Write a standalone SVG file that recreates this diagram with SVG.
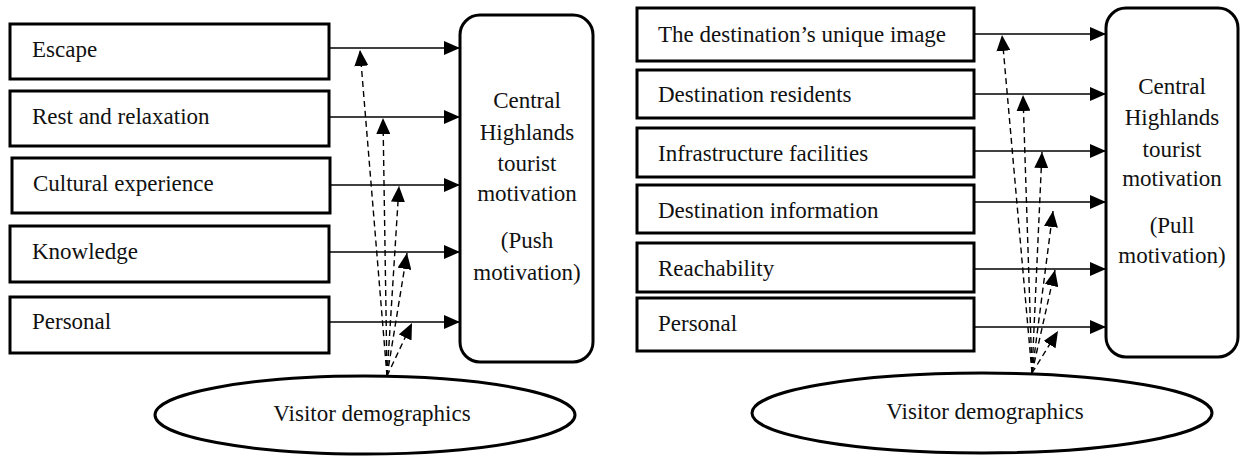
<svg xmlns="http://www.w3.org/2000/svg" width="1241" height="457" viewBox="0 0 1241 457">
<defs>
<marker id="ah" viewBox="0 0 16 14" refX="16" refY="7" markerWidth="16" markerHeight="14" markerUnits="userSpaceOnUse" orient="auto">
<path d="M0,0 L16,7 L0,14 z" fill="#000"/>
</marker>
</defs>
<style>
.box{fill:#fff;stroke:#000;stroke-width:3}
.t{font-family:"Liberation Serif","Times New Roman",serif;font-size:23px;fill:#111}
.c{text-anchor:middle}
.solid{stroke:#000;stroke-width:1.6;fill:none;marker-end:url(#ah)}
.dash{stroke:#000;stroke-width:1.4;fill:none;stroke-dasharray:6 4;marker-end:url(#ah)}
</style>
<rect width="1241" height="457" fill="#fff"/>

<g id="connectors">
<line class="solid" x1="330" y1="48" x2="460" y2="48"/>
<line class="solid" x1="330" y1="117" x2="460" y2="117"/>
<line class="solid" x1="331" y1="185" x2="460" y2="185"/>
<line class="solid" x1="330" y1="252" x2="460" y2="252"/>
<line class="solid" x1="330" y1="322" x2="460" y2="322"/>
<line class="dash" x1="387" y1="376" x2="360" y2="50"/>
<line class="dash" x1="387" y1="376" x2="383" y2="118"/>
<line class="dash" x1="387" y1="376" x2="399" y2="186"/>
<line class="dash" x1="387" y1="376" x2="407" y2="253"/>
<line class="dash" x1="387" y1="376" x2="412" y2="323"/>

<line class="solid" x1="974" y1="34" x2="1106" y2="34"/>
<line class="solid" x1="974" y1="94" x2="1106" y2="94"/>
<line class="solid" x1="974" y1="151" x2="1106" y2="151"/>
<line class="solid" x1="974" y1="202" x2="1106" y2="202"/>
<line class="solid" x1="974" y1="269" x2="1106" y2="269"/>
<line class="solid" x1="974" y1="327" x2="1106" y2="327"/>
<line class="dash" x1="1032" y1="373" x2="1002" y2="35"/>
<line class="dash" x1="1032" y1="373" x2="1023" y2="95"/>
<line class="dash" x1="1032" y1="373" x2="1042" y2="152"/>
<line class="dash" x1="1032" y1="373" x2="1053" y2="211"/>
<line class="dash" x1="1032" y1="373" x2="1055" y2="270"/>
<line class="dash" x1="1032" y1="373" x2="1058" y2="331"/>
</g>

<g id="escape"><rect class="box" x="10" y="24" width="319" height="55"/><text class="t" x="32" y="57">Escape</text></g>
<g id="rest"><rect class="box" x="10" y="91" width="319" height="55"/><text class="t" x="32" y="124">Rest and relaxation</text></g>
<g id="cultural"><rect class="box" x="12" y="158" width="318" height="55"/><text class="t" x="33" y="191">Cultural experience</text></g>
<g id="knowledge"><rect class="box" x="10" y="226" width="319" height="56"/><text class="t" x="32" y="259">Knowledge</text></g>
<g id="personal-push"><rect class="box" x="10" y="297" width="319" height="56"/><text class="t" x="32" y="329">Personal</text></g>

<g id="push-motivation">
<rect class="box" x="460" y="15" width="133" height="347" rx="20" ry="20"/>
<text class="t c" x="527" y="108">Central</text>
<text class="t c" x="527" y="140">Highlands</text>
<text class="t c" x="527" y="171">tourist</text>
<text class="t c" x="527" y="201">motivation</text>
<text class="t c" x="527" y="248">(Push</text>
<text class="t c" x="527" y="280">motivation)</text>
</g>

<g id="demographics-left">
<ellipse class="box" cx="365" cy="415" rx="210" ry="39"/>
<text class="t c" x="372" y="421">Visitor demographics</text>
</g>

<g id="unique-image"><rect class="box" x="637" y="8" width="337" height="53"/><text class="t" x="658" y="42">The destination’s unique image</text></g>
<g id="residents"><rect class="box" x="637" y="70" width="337" height="48"/><text class="t" x="658" y="102">Destination residents</text></g>
<g id="infrastructure"><rect class="box" x="637" y="128" width="337" height="49"/><text class="t" x="658" y="161">Infrastructure facilities</text></g>
<g id="information"><rect class="box" x="637" y="185" width="337" height="48"/><text class="t" x="658" y="218">Destination information</text></g>
<g id="reachability"><rect class="box" x="637" y="243" width="337" height="49"/><text class="t" x="658" y="276">Reachability</text></g>
<g id="personal-pull"><rect class="box" x="637" y="298" width="337" height="53"/><text class="t" x="658" y="331">Personal</text></g>

<g id="pull-motivation">
<rect class="box" x="1106" y="8" width="132" height="349" rx="20" ry="20"/>
<text class="t c" x="1172" y="94">Central</text>
<text class="t c" x="1172" y="125">Highlands</text>
<text class="t c" x="1172" y="157">tourist</text>
<text class="t c" x="1172" y="186">motivation</text>
<text class="t c" x="1172" y="233">(Pull</text>
<text class="t c" x="1172" y="263">motivation)</text>
</g>

<g id="demographics-right">
<ellipse class="box" cx="982" cy="413" rx="230" ry="40"/>
<text class="t c" x="985" y="419">Visitor demographics</text>
</g>
</svg>
